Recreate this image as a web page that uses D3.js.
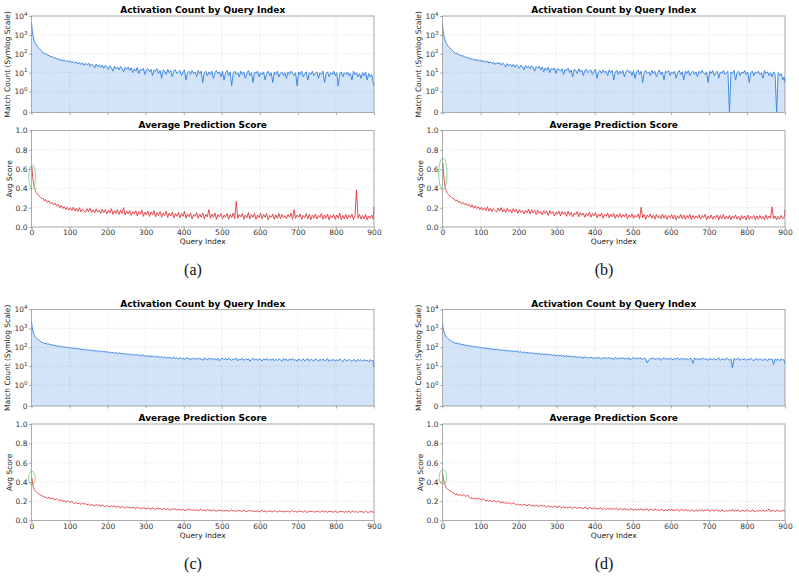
<!DOCTYPE html>
<html>
<head>
<meta charset="utf-8">
<script src="https://cdn.jsdelivr.net/npm/d3@7"></script>
<style>
  body { margin: 0; background: #fff; }
  text { font-family: "DejaVu Sans", sans-serif; }
</style>
</head>
<body>
<svg id="fig" width="799" height="577"></svg>
<script>
// query indices (dense at the start, every 4 after 30)
const queryIdx = d3.range(0, 10).concat(d3.range(10, 30, 2), d3.range(30, 900, 4), [900]);

const xTicks = [0, 100, 200, 300, 400, 500, 600, 700, 800, 900];
const countTicks = [0, 1, 10, 100, 1000, 10000];
const scoreTicks = [0, 0.2, 0.4, 0.6, 0.8, 1.0];
const panelLabels = ["(a)", "(b)", "(c)", "(d)"];

// match counts (symlog panel)
const countsA = [4800, 2600, 1700, 1150, 900, 720, 610, 520, 450, 400,
  350, 300, 265, 232, 215, 190, 172, 158, 145, 132,
  118, 98, 104, 84, 80, 71, 74, 60, 62, 52,
  56, 44, 50, 41, 47, 38, 44, 36, 42, 33,
  39, 31, 37, 28, 35, 27, 33, 24, 31, 26,
  32, 22, 29, 24, 18, 28, 21, 26, 19, 25,
  17, 24, 20, 15, 23, 18, 12, 22, 16, 20,
  14, 21, 17, 11, 19, 15, 20, 13, 18, 10,
  16, 12, 19, 9, 15, 13, 17, 8, 14, 16,
  11, 15, 7, 14, 12, 16, 9, 13, 5, 14,
  12, 8, 15, 10, 13, 6, 12, 14, 9, 11,
  13, 7, 11, 14, 4, 10, 12, 8, 13, 9,
  11, 6, 13, 9, 12, 3, 10, 12, 7, 11,
  8, 12, 5, 10, 13, 9, 11, 6, 12, 4,
  10, 13, 7, 11, 2, 9, 12, 8, 10, 6,
  12, 8, 11, 5, 9, 13, 7, 10, 3, 11,
  9, 12, 6, 10, 8, 11, 4, 9, 12, 7,
  10, 3, 11, 8, 12, 6, 9, 11, 7, 10,
  5, 11, 8, 12, 9, 7, 10, 2, 11, 8,
  12, 6, 9, 11, 4, 10, 8, 12, 7, 9,
  11, 5, 10, 8, 12, 3, 9, 11, 6, 10,
  8, 12, 7, 10, 2, 9, 11, 6, 10, 8,
  11, 7, 9, 4, 12, 8, 10, 6, 9, 5,
  10, 7, 11, 4, 9, 6, 8, 3, 2];
const countsB = [4100, 2300, 1500, 1100, 850, 700, 590, 510, 450, 400,
  355, 305, 270, 240, 218, 196, 180, 164, 150, 138,
  126, 104, 110, 90, 86, 76, 80, 66, 68, 58,
  62, 50, 56, 46, 52, 42, 49, 40, 46, 37,
  43, 35, 41, 32, 39, 30, 36, 27, 34, 29,
  35, 25, 32, 27, 20, 30, 23, 28, 21, 27,
  19, 26, 22, 17, 25, 20, 14, 24, 18, 22,
  16, 23, 19, 12, 21, 17, 22, 14, 20, 11,
  18, 13, 20, 10, 17, 14, 18, 9, 16, 15,
  12, 16, 8, 15, 13, 17, 10, 14, 6, 15,
  13, 9, 16, 11, 14, 7, 13, 15, 10, 12,
  14, 8, 12, 15, 5, 11, 13, 9, 14, 10,
  12, 7, 14, 10, 13, 4, 11, 13, 8, 12,
  9, 13, 6, 11, 14, 10, 12, 7, 13, 5,
  11, 14, 8, 12, 3, 10, 13, 9, 11, 7,
  13, 9, 12, 6, 10, 14, 8, 11, 4, 12,
  10, 13, 7, 11, 9, 12, 5, 10, 13, 8,
  11, 4, 12, 9, 13, 7, 10, 12, 8, 11,
  6, 12, 9, 13, 10, 8, 11, 3, 12, 9,
  13, 7, 10, 12, 5, 11, 9, 13, 8, 10,
  12, 0, 11, 9, 13, 4, 10, 12, 7, 11,
  9, 13, 8, 11, 3, 10, 12, 7, 11, 9,
  12, 8, 10, 5, 13, 9, 11, 7, 10, 6,
  11, 8, 0, 10, 7, 9, 4, 6, 3];
const countsC = [2400, 1500, 1050, 820, 680, 580, 510, 460, 420, 390,
  360, 320, 290, 265, 245, 228, 214, 200, 190, 180,
  176, 158, 162, 146, 150, 134, 138, 124, 128, 116,
  120, 108, 114, 101, 107, 96, 102, 90, 97, 87,
  92, 83, 89, 79, 85, 75, 81, 71, 78, 69,
  74, 66, 72, 63, 69, 60, 67, 58, 64, 56,
  62, 55, 60, 52, 57, 49, 55, 47, 53, 46,
  51, 45, 49, 43, 47, 41, 46, 39, 44, 38,
  43, 37, 42, 35, 40, 34, 39, 33, 37, 32,
  36, 31, 35, 29, 34, 30, 33, 27, 32, 28,
  31, 26, 30, 27, 29, 24, 30, 25, 28, 23,
  29, 24, 27, 22, 28, 25, 26, 21, 27, 24,
  26, 22, 28, 23, 25, 20, 27, 24, 22, 26,
  23, 27, 21, 25, 22, 26, 19, 24, 27, 22,
  25, 21, 26, 23, 20, 25, 22, 27, 19, 24,
  22, 26, 20, 24, 21, 25, 18, 23, 26, 21,
  24, 20, 25, 22, 19, 24, 21, 26, 20, 23,
  21, 25, 19, 23, 20, 24, 22, 18, 25, 21,
  23, 19, 24, 21, 25, 20, 22, 18, 24, 21,
  20, 24, 19, 22, 25, 18, 23, 21, 19, 24,
  22, 18, 23, 20, 24, 19, 21, 25, 18, 22,
  20, 23, 18, 22, 19, 24, 20, 17, 23, 21,
  19, 23, 20, 18, 22, 21, 17, 23, 20, 22,
  18, 22, 19, 21, 17, 22, 19, 20, 9];
const countsD = [2000, 1300, 950, 760, 640, 560, 500, 455, 420, 390,
  360, 325, 295, 272, 252, 235, 220, 208, 196, 186,
  180, 162, 166, 150, 154, 138, 142, 128, 132, 120,
  124, 111, 117, 104, 110, 98, 104, 92, 99, 89,
  94, 85, 91, 81, 87, 77, 83, 73, 80, 71,
  76, 68, 74, 65, 71, 62, 69, 60, 66, 58,
  64, 57, 62, 54, 59, 51, 57, 49, 55, 48,
  53, 47, 51, 45, 49, 43, 48, 41, 46, 40,
  45, 39, 44, 37, 42, 36, 41, 35, 39, 34,
  38, 33, 37, 31, 36, 32, 35, 29, 34, 30,
  33, 28, 32, 29, 31, 26, 32, 27, 30, 25,
  31, 26, 29, 24, 30, 27, 28, 23, 29, 26,
  28, 24, 30, 25, 27, 22, 29, 26, 24, 28,
  25, 29, 23, 27, 24, 28, 21, 26, 29, 24,
  27, 23, 28, 25, 22, 27, 24, 15, 21, 26,
  24, 28, 22, 26, 23, 27, 20, 25, 28, 23,
  26, 22, 27, 24, 21, 26, 23, 28, 22, 25,
  23, 27, 21, 25, 22, 26, 24, 14, 27, 23,
  25, 21, 26, 23, 27, 22, 24, 20, 26, 23,
  22, 26, 21, 24, 27, 20, 25, 23, 21, 26,
  24, 20, 25, 8, 26, 21, 23, 27, 20, 24,
  22, 25, 20, 24, 21, 26, 22, 19, 25, 23,
  21, 25, 22, 20, 24, 23, 19, 25, 22, 24,
  12, 24, 21, 23, 19, 24, 21, 22, 14];

// average prediction scores
const scoresA = [0.60, 0.62, 0.57, 0.53, 0.49, 0.46, 0.44, 0.42, 0.41, 0.40,
  0.38, 0.36, 0.35, 0.34, 0.33, 0.32, 0.315, 0.305, 0.30, 0.295,
  0.30, 0.27, 0.285, 0.255, 0.27, 0.24, 0.255, 0.23, 0.245, 0.215,
  0.235, 0.2, 0.225, 0.19, 0.215, 0.18, 0.205, 0.175, 0.2, 0.17,
  0.205, 0.165, 0.195, 0.16, 0.2, 0.155, 0.185, 0.165, 0.15, 0.19,
  0.16, 0.195, 0.15, 0.18, 0.145, 0.19, 0.155, 0.175, 0.14, 0.185,
  0.15, 0.18, 0.135, 0.175, 0.145, 0.19, 0.13, 0.17, 0.14, 0.18,
  0.13, 0.175, 0.14, 0.2, 0.125, 0.165, 0.135, 0.17, 0.12, 0.16,
  0.135, 0.17, 0.115, 0.16, 0.13, 0.175, 0.11, 0.155, 0.125, 0.165,
  0.11, 0.155, 0.125, 0.17, 0.105, 0.15, 0.12, 0.16, 0.1, 0.145,
  0.12, 0.165, 0.1, 0.145, 0.115, 0.155, 0.095, 0.14, 0.11, 0.15,
  0.095, 0.14, 0.11, 0.16, 0.09, 0.135, 0.105, 0.145, 0.085, 0.13,
  0.11, 0.15, 0.09, 0.135, 0.1, 0.145, 0.085, 0.13, 0.105, 0.18,
  0.09, 0.135, 0.1, 0.145, 0.08, 0.13, 0.105, 0.14, 0.085, 0.125,
  0.1, 0.14, 0.08, 0.13, 0.095, 0.145, 0.085, 0.265, 0.09, 0.13,
  0.105, 0.14, 0.08, 0.125, 0.095, 0.15, 0.085, 0.13, 0.1, 0.14,
  0.08, 0.125, 0.095, 0.145, 0.085, 0.13, 0.1, 0.14, 0.075, 0.12,
  0.1, 0.135, 0.08, 0.125, 0.09, 0.14, 0.085, 0.13, 0.095, 0.12,
  0.085, 0.13, 0.1, 0.145, 0.08, 0.18, 0.09, 0.125, 0.1, 0.135,
  0.08, 0.12, 0.095, 0.14, 0.085, 0.13, 0.075, 0.125, 0.09, 0.135,
  0.085, 0.12, 0.1, 0.14, 0.08, 0.125, 0.09, 0.135, 0.075, 0.12,
  0.095, 0.13, 0.08, 0.125, 0.09, 0.145, 0.075, 0.12, 0.085, 0.13,
  0.08, 0.125, 0.095, 0.135, 0.075, 0.12, 0.385, 0.09, 0.13, 0.08,
  0.12, 0.085, 0.13, 0.075, 0.115, 0.09, 0.125, 0.08, 0.21];
const scoresB = [0.63, 0.66, 0.6, 0.55, 0.5, 0.46, 0.43, 0.41, 0.40, 0.385,
  0.37, 0.355, 0.345, 0.335, 0.325, 0.32, 0.31, 0.305, 0.3, 0.295,
  0.295, 0.27, 0.28, 0.255, 0.265, 0.24, 0.255, 0.23, 0.245, 0.22,
  0.235, 0.205, 0.23, 0.195, 0.22, 0.19, 0.21, 0.18, 0.205, 0.175,
  0.2, 0.17, 0.21, 0.165, 0.195, 0.16, 0.19, 0.17, 0.155, 0.195,
  0.165, 0.2, 0.155, 0.185, 0.15, 0.195, 0.16, 0.18, 0.145, 0.19,
  0.155, 0.185, 0.14, 0.18, 0.15, 0.17, 0.135, 0.175, 0.145, 0.185,
  0.135, 0.18, 0.145, 0.17, 0.13, 0.175, 0.14, 0.165, 0.125, 0.17,
  0.14, 0.165, 0.12, 0.17, 0.135, 0.16, 0.115, 0.155, 0.13, 0.165,
  0.115, 0.16, 0.13, 0.155, 0.11, 0.165, 0.12, 0.15, 0.105, 0.145,
  0.125, 0.16, 0.105, 0.15, 0.12, 0.145, 0.1, 0.14, 0.115, 0.155,
  0.1, 0.14, 0.115, 0.15, 0.095, 0.135, 0.11, 0.145, 0.09, 0.13,
  0.11, 0.145, 0.095, 0.135, 0.105, 0.14, 0.09, 0.13, 0.1, 0.14,
  0.095, 0.13, 0.105, 0.14, 0.085, 0.125, 0.1, 0.135, 0.09, 0.12,
  0.1, 0.135, 0.085, 0.205, 0.095, 0.13, 0.08, 0.125, 0.1, 0.135,
  0.09, 0.125, 0.08, 0.13, 0.095, 0.12, 0.085, 0.135, 0.09, 0.125,
  0.08, 0.12, 0.095, 0.13, 0.085, 0.125, 0.075, 0.115, 0.09, 0.13,
  0.085, 0.125, 0.08, 0.12, 0.09, 0.13, 0.075, 0.12, 0.085, 0.115,
  0.09, 0.125, 0.08, 0.12, 0.095, 0.13, 0.075, 0.115, 0.085, 0.125,
  0.08, 0.115, 0.09, 0.125, 0.075, 0.12, 0.085, 0.13, 0.08, 0.115,
  0.085, 0.12, 0.075, 0.115, 0.09, 0.125, 0.08, 0.11, 0.07, 0.12,
  0.085, 0.115, 0.075, 0.125, 0.08, 0.11, 0.09, 0.12, 0.075, 0.115,
  0.08, 0.12, 0.085, 0.11, 0.075, 0.125, 0.08, 0.115, 0.09, 0.21,
  0.085, 0.115, 0.075, 0.11, 0.08, 0.12, 0.085, 0.1, 0.18];
const scoresC = [0.42, 0.44, 0.41, 0.38, 0.36, 0.345, 0.335, 0.325, 0.318, 0.31,
  0.305, 0.298, 0.29, 0.285, 0.278, 0.272, 0.268, 0.263, 0.258, 0.254,
  0.256, 0.236, 0.245, 0.229, 0.243, 0.221, 0.234, 0.225, 0.216, 0.228,
  0.214, 0.202, 0.219, 0.197, 0.207, 0.188, 0.203, 0.195, 0.184, 0.199,
  0.186, 0.173, 0.189, 0.171, 0.18, 0.166, 0.184, 0.169, 0.176, 0.161,
  0.172, 0.155, 0.166, 0.158, 0.149, 0.167, 0.153, 0.163, 0.147, 0.16,
  0.152, 0.141, 0.157, 0.146, 0.138, 0.153, 0.144, 0.15, 0.136, 0.148,
  0.142, 0.131, 0.146, 0.135, 0.127, 0.143, 0.134, 0.14, 0.129, 0.137,
  0.134, 0.122, 0.139, 0.126, 0.131, 0.12, 0.136, 0.127, 0.119, 0.133,
  0.125, 0.117, 0.131, 0.12, 0.114, 0.128, 0.121, 0.126, 0.112, 0.124,
  0.119, 0.111, 0.125, 0.113, 0.107, 0.122, 0.115, 0.12, 0.109, 0.118,
  0.114, 0.105, 0.12, 0.108, 0.103, 0.117, 0.11, 0.115, 0.104, 0.113,
  0.104, 0.113, 0.099, 0.108, 0.116, 0.101, 0.11, 0.097, 0.112, 0.105,
  0.106, 0.098, 0.113, 0.101, 0.095, 0.109, 0.103, 0.108, 0.096, 0.105,
  0.098, 0.107, 0.093, 0.102, 0.11, 0.095, 0.104, 0.091, 0.106, 0.1,
  0.101, 0.092, 0.108, 0.096, 0.09, 0.104, 0.098, 0.103, 0.091, 0.1,
  0.093, 0.102, 0.088, 0.097, 0.106, 0.09, 0.1, 0.087, 0.101, 0.095,
  0.097, 0.088, 0.104, 0.092, 0.087, 0.1, 0.094, 0.099, 0.087, 0.096,
  0.091, 0.1, 0.086, 0.095, 0.103, 0.088, 0.097, 0.085, 0.099, 0.093,
  0.094, 0.086, 0.101, 0.09, 0.084, 0.098, 0.092, 0.097, 0.085, 0.094,
  0.089, 0.098, 0.085, 0.093, 0.101, 0.087, 0.095, 0.083, 0.097, 0.091,
  0.092, 0.084, 0.099, 0.088, 0.083, 0.096, 0.09, 0.095, 0.083, 0.092,
  0.088, 0.096, 0.083, 0.092, 0.099, 0.085, 0.094, 0.082, 0.095, 0.09,
  0.09, 0.083, 0.097, 0.086, 0.081, 0.094, 0.088, 0.092, 0.079];
const scoresD = [0.5, 0.48, 0.44, 0.42, 0.405, 0.39, 0.375, 0.365, 0.355, 0.345,
  0.338, 0.33, 0.322, 0.318, 0.31, 0.305, 0.3, 0.296, 0.29, 0.287,
  0.285, 0.266, 0.279, 0.258, 0.272, 0.251, 0.268, 0.262, 0.248, 0.264,
  0.244, 0.229, 0.238, 0.221, 0.235, 0.218, 0.231, 0.224, 0.212, 0.227,
  0.216, 0.2, 0.213, 0.196, 0.209, 0.192, 0.207, 0.199, 0.19, 0.204,
  0.194, 0.18, 0.197, 0.176, 0.189, 0.174, 0.186, 0.179, 0.171, 0.184,
  0.176, 0.16, 0.172, 0.158, 0.169, 0.155, 0.167, 0.162, 0.151, 0.164,
  0.164, 0.149, 0.161, 0.146, 0.158, 0.152, 0.143, 0.159, 0.147, 0.156,
  0.15, 0.137, 0.155, 0.14, 0.147, 0.134, 0.151, 0.142, 0.136, 0.148,
  0.141, 0.128, 0.146, 0.132, 0.139, 0.127, 0.143, 0.134, 0.125, 0.138,
  0.136, 0.122, 0.14, 0.127, 0.133, 0.121, 0.138, 0.128, 0.119, 0.134,
  0.13, 0.117, 0.136, 0.121, 0.128, 0.115, 0.133, 0.124, 0.114, 0.129,
  0.113, 0.126, 0.116, 0.131, 0.11, 0.124, 0.118, 0.128, 0.108, 0.122,
  0.121, 0.107, 0.127, 0.112, 0.119, 0.105, 0.124, 0.115, 0.104, 0.12,
  0.106, 0.119, 0.109, 0.124, 0.103, 0.117, 0.111, 0.122, 0.101, 0.116,
  0.115, 0.101, 0.121, 0.106, 0.113, 0.099, 0.118, 0.109, 0.098, 0.114,
  0.1, 0.113, 0.104, 0.119, 0.098, 0.111, 0.106, 0.117, 0.096, 0.11,
  0.111, 0.097, 0.116, 0.102, 0.109, 0.095, 0.114, 0.105, 0.094, 0.11,
  0.097, 0.11, 0.101, 0.116, 0.095, 0.108, 0.103, 0.114, 0.093, 0.107,
  0.108, 0.094, 0.113, 0.099, 0.106, 0.092, 0.111, 0.102, 0.091, 0.107,
  0.095, 0.108, 0.099, 0.114, 0.093, 0.106, 0.1, 0.111, 0.09, 0.104,
  0.106, 0.092, 0.111, 0.097, 0.104, 0.091, 0.109, 0.1, 0.089, 0.105,
  0.094, 0.107, 0.097, 0.112, 0.092, 0.105, 0.099, 0.12, 0.089, 0.103,
  0.105, 0.091, 0.11, 0.096, 0.103, 0.09, 0.108, 0.097, 0.1];

// highlighted start region (green ellipse): centre index, centre score, radii
const ringIdx = [2, 1, 1, 1];
const ringScore = [0.52, 0.55, 0.44, 0.45];
const ringRx = [9, 11, 9, 10];
const ringRy = [0.125, 0.165, 0.07, 0.075];

const allCounts = [countsA, countsB, countsC, countsD];
const allScores = [scoresA, scoresB, scoresC, scoresD];

// panel placement
const panelLeft = [31.5, 442.5, 31.5, 442.5];
const panelTop = [0, 0, 293.5, 293.5];
const plotW = 342.5;
const topY0 = 16, topY1 = 112.5, botY0 = 130.5, botY1 = 227;

// matplotlib style symlog, linthresh 1, base 10
const linScale = 1 / (1 - 1 / 10);
function symlog(v) {
    return v <= 1 ? v * linScale : linScale + Math.log10(v);
}

const svg = d3.select("#fig");

function grid(g, x, y, yVals, y0, y1) {
    g.append("g").selectAll("line")
        .data(xTicks)
        .enter().append("line")
        .attr("x1", d => x(d)).attr("x2", d => x(d))
        .attr("y1", y0).attr("y2", y1)
        .attr("stroke", "#c4c4c4").attr("stroke-width", 0.6)
        .attr("stroke-dasharray", "2,1.5").attr("opacity", 0.5);
    g.append("g").selectAll("line")
        .data(yVals)
        .enter().append("line")
        .attr("x1", x.range()[0]).attr("x2", x.range()[1])
        .attr("y1", d => y(d)).attr("y2", d => y(d))
        .attr("stroke", "#c4c4c4").attr("stroke-width", 0.6)
        .attr("stroke-dasharray", "2,1.5").attr("opacity", 0.5);
}

function frame(g, x, y0, y1) {
    g.append("rect")
        .attr("x", x.range()[0]).attr("y", y0)
        .attr("width", x.range()[1] - x.range()[0]).attr("height", y1 - y0)
        .attr("fill", "none").attr("stroke", "#999").attr("stroke-width", 0.8);
}

function styleAxis(ax) {
    ax.select(".domain").remove();
    ax.selectAll(".tick line").attr("stroke", "#888").attr("stroke-width", 0.7);
    ax.selectAll(".tick text").attr("fill", "#333").attr("font-size", 7.5)
        .attr("font-family", "DejaVu Sans");
}

for (let p = 0; p < 4; p++) {
    const g = svg.append("g").attr("transform", `translate(0, ${panelTop[p]})`);
    const left = panelLeft[p], right = left + plotW;
    const x = d3.scaleLinear().domain([0, 900]).range([left, right]);

    // ---- top: activation count (symlog) ----
    const yT = d3.scaleLinear().domain([0, symlog(10000)]).range([topY1, topY0]);
    grid(g, x, yT, countTicks.map(symlog), topY0, topY1);

    const pts = queryIdx.map((q, i) => ({ q: q, v: allCounts[p][i] }));
    g.append("path")
        .datum(pts)
        .attr("fill", "#4a90e2").attr("fill-opacity", 0.24)
        .attr("d", d3.area().x(d => x(d.q)).y0(yT(0)).y1(d => yT(symlog(d.v))));
    g.append("path")
        .datum(pts)
        .attr("fill", "none").attr("stroke", "#3f88e0").attr("stroke-width", 1)
        .attr("stroke-linejoin", "round")
        .attr("d", d3.line().x(d => x(d.q)).y(d => yT(symlog(d.v))));
    frame(g, x, topY0, topY1);

    const axTop = g.append("g").attr("transform", `translate(${left},0)`)
        .call(d3.axisLeft(yT).tickValues(countTicks.map(symlog)).tickSize(2.5).tickPadding(1.5).tickFormat(""));
    styleAxis(axTop);
    axTop.selectAll(".tick text").each(function (d, i) {
        const t = d3.select(this);
        const v = countTicks[i];
        if (v === 0) {
            t.text("0");
        } else {
            t.text("10");
            t.append("tspan").attr("dy", -3.2).attr("font-size", 5.5).text(Math.round(Math.log10(v)));
        }
    });
    const axTopX = g.append("g").attr("transform", `translate(0,${topY1})`)
        .call(d3.axisBottom(x).tickValues(xTicks).tickSize(2.5).tickFormat(""));
    styleAxis(axTopX);

    g.append("text")
        .attr("x", (left + right) / 2).attr("y", topY0 - 3)
        .attr("text-anchor", "middle").attr("font-size", 9).attr("font-weight", "bold")
        .text("Activation Count by Query Index");
    g.append("text")
        .attr("transform", `translate(${left - 21.5},${(topY0 + topY1) / 2}) rotate(-90)`)
        .attr("text-anchor", "middle").attr("font-size", 7.5).attr("fill", "#222")
        .text("Match Count (Symlog Scale)");

    // ---- bottom: average prediction score ----
    const yB = d3.scaleLinear().domain([0, 1]).range([botY1, botY0]);
    grid(g, x, yB, scoreTicks, botY0, botY1);

    const spts = queryIdx.map((q, i) => ({ q: q, v: allScores[p][i] }));
    g.append("path")
        .datum(spts)
        .attr("fill", "none").attr("stroke", "#e03a3e").attr("stroke-width", 1)
        .attr("stroke-opacity", 0.9).attr("stroke-linejoin", "round")
        .attr("d", d3.line().x(d => x(d.q)).y(d => yB(d.v)));

    g.append("ellipse")
        .attr("cx", x(ringIdx[p])).attr("cy", yB(ringScore[p]))
        .attr("rx", x(ringRx[p]) - x(0)).attr("ry", yB(0) - yB(ringRy[p]))
        .attr("fill", "none").attr("stroke", "#5cc870").attr("stroke-opacity", 0.8)
        .attr("stroke-width", 0.9);
    frame(g, x, botY0, botY1);

    const axB = g.append("g").attr("transform", `translate(${left},0)`)
        .call(d3.axisLeft(yB).tickValues(scoreTicks).tickSize(2.5).tickPadding(1.5).tickFormat(d3.format(".1f")));
    styleAxis(axB);
    const axBX = g.append("g").attr("transform", `translate(0,${botY1})`)
        .call(d3.axisBottom(x).tickValues(xTicks).tickSize(2.5).tickPadding(0.5));
    styleAxis(axBX);

    g.append("text")
        .attr("x", (left + right) / 2).attr("y", botY0 - 3)
        .attr("text-anchor", "middle").attr("font-size", 9).attr("font-weight", "bold")
        .text("Average Prediction Score");
    g.append("text")
        .attr("transform", `translate(${left - 19.5},${(botY0 + botY1) / 2}) rotate(-90)`)
        .attr("text-anchor", "middle").attr("font-size", 7.5).attr("fill", "#222")
        .text("Avg Score");
    g.append("text")
        .attr("x", (left + right) / 2).attr("y", botY1 + 17)
        .attr("text-anchor", "middle").attr("font-size", 7.5).attr("fill", "#222")
        .text("Query Index");

    // sub-figure caption
    g.append("text")
        .attr("x", left + 161.5).attr("y", 275)
        .attr("text-anchor", "middle")
        .style("font-family", "'Liberation Serif', 'Times New Roman', serif")
        .attr("font-size", 16).attr("fill", "#111")
        .text(panelLabels[p]);
}
</script>
</body>
</html>
